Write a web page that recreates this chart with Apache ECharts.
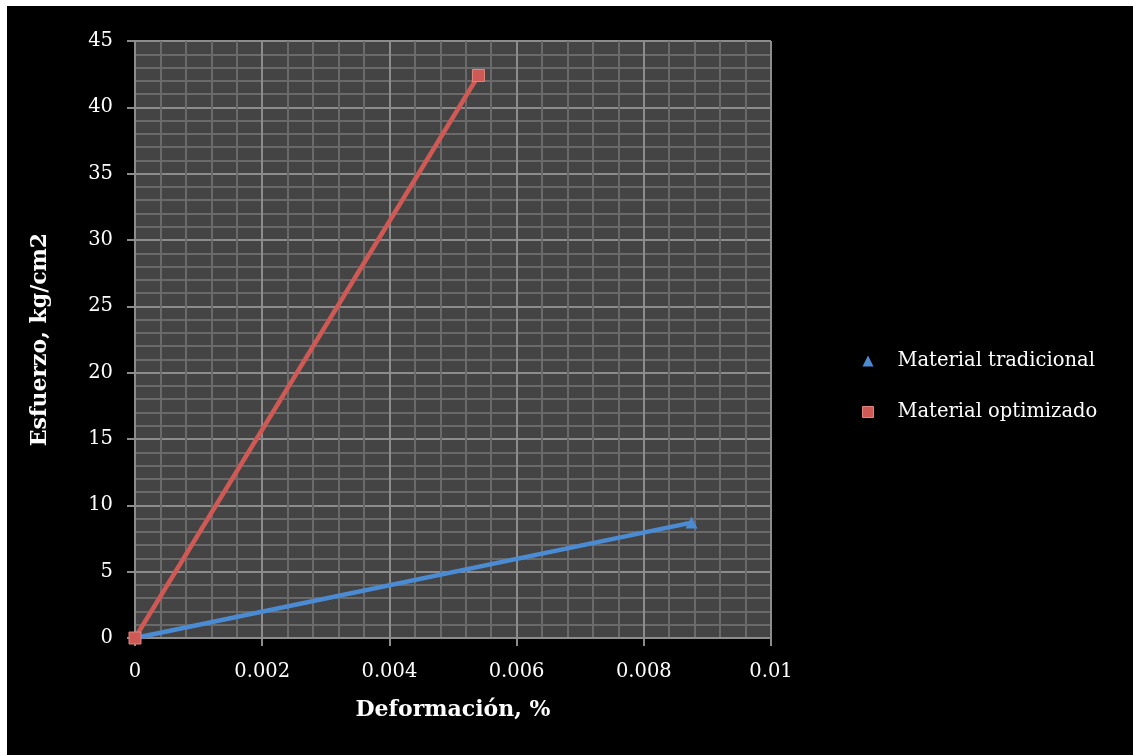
<!DOCTYPE html>
<html>
<head>
<meta charset="utf-8">
<script src="https://cdn.jsdelivr.net/npm/echarts@6/dist/echarts.min.js"></script>
<style>
  html, body { margin: 0; padding: 0; background: #ffffff; }
  #chart { position: absolute; left: 7px; top: 6px; width: 1126px; height: 749px; }
</style>
</head>
<body>
<div id="chart"></div>
<script>
// Stress vs. strain for the two materials
const seriesNames = ['Material tradicional', 'Material optimizado'];
const tradicionalStrain = [0, 0.00875];
const tradicionalStress = [0, 8.7];
const optimizadoStrain = [0, 0.0054];
const optimizadoStress = [0, 42.4];
const xTicks = [0, 0.002, 0.004, 0.006, 0.008, 0.01];
const yTicks = [0, 5, 10, 15, 20, 25, 30, 35, 40, 45];

const FONT = '"DejaVu Serif", "Liberation Serif", serif';
const BLUE = '#4a8bd4';
const RED = '#cf5a55';

function pairs(xs, ys) { return xs.map((x, i) => [x, ys[i]]); }

const chart = echarts.init(document.getElementById('chart'));
chart.setOption({
  backgroundColor: '#000000',
  animation: false,
  grid: {
    left: 128, top: 35, width: 636, height: 597,
    show: true, backgroundColor: '#444444', borderWidth: 0
  },
  xAxis: {
    type: 'value',
    min: xTicks[0], max: xTicks[xTicks.length - 1], interval: 0.002,
    name: 'Deformación, %', nameLocation: 'middle', nameGap: 61,
    nameTextStyle: { color: '#ffffff', fontFamily: FONT, fontWeight: 'bold', fontSize: 22 },
    axisLine: { show: true, onZero: false, lineStyle: { color: '#8c8c8c', width: 2 } },
    axisTick: { show: true, length: 8, lineStyle: { color: '#8c8c8c', width: 2 } },
    axisLabel: {
      color: '#ffffff', fontFamily: FONT, fontSize: 19.5, margin: 24,
      formatter: v => String(parseFloat(v.toFixed(4)))
    },
    splitLine: { show: true, lineStyle: { color: '#8c8c8c', width: 2 } },
    minorTick: { show: false, splitNumber: 5 },
    minorSplitLine: { show: true, lineStyle: { color: '#6a6a6a', width: 2 } }
  },
  yAxis: {
    type: 'value',
    min: yTicks[0], max: yTicks[yTicks.length - 1], interval: 5,
    name: 'Esfuerzo, kg/cm2', nameLocation: 'middle', nameGap: 84,
    nameTextStyle: { color: '#ffffff', fontFamily: FONT, fontWeight: 'bold', fontSize: 22 },
    axisLine: { show: true, onZero: false, lineStyle: { color: '#8c8c8c', width: 2 } },
    axisTick: { show: true, length: 8, lineStyle: { color: '#8c8c8c', width: 2 } },
    axisLabel: { color: '#ffffff', fontFamily: FONT, fontSize: 19.5, margin: 22 },
    splitLine: { show: true, lineStyle: { color: '#8c8c8c', width: 2 } },
    minorTick: { show: false, splitNumber: 5 },
    minorSplitLine: { show: true, lineStyle: { color: '#6a6a6a', width: 2 } }
  },
  legend: {
    orient: 'vertical', left: 850, top: 340, itemGap: 31,
    itemWidth: 11, itemHeight: 11,
    textStyle: { color: '#ffffff', fontFamily: FONT, fontSize: 19.5, padding: [0, 0, 0, 19] },
    data: [
      { name: seriesNames[0], icon: 'triangle', itemStyle: { color: BLUE } },
      { name: seriesNames[1], icon: 'rect', itemStyle: { color: RED, borderColor: '#e08580', borderWidth: 1 } }
    ]
  },
  series: [
    {
      name: seriesNames[0], type: 'line',
      data: pairs(tradicionalStrain, tradicionalStress),
      lineStyle: { color: BLUE, width: 4.5 },
      itemStyle: { color: BLUE },
      symbol: 'triangle', symbolSize: 12, showAllSymbol: true
    },
    {
      name: seriesNames[1], type: 'line',
      data: pairs(optimizadoStrain, optimizadoStress),
      lineStyle: { color: RED, width: 4.5 },
      itemStyle: { color: RED, borderColor: '#e08580', borderWidth: 1 },
      symbol: 'rect', symbolSize: 12, showAllSymbol: true
    }
  ]
});
</script>
</body>
</html>
